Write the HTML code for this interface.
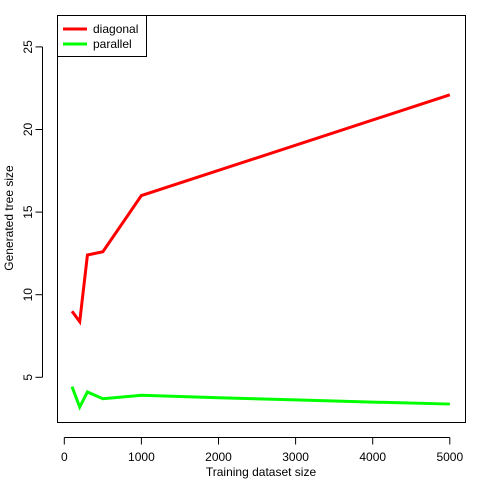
<!DOCTYPE html>
<html><head><meta charset="utf-8"><style>
body{margin:0;background:#fff}
text{font-family:"Liberation Sans",sans-serif;font-size:12px;fill:#000}
</style></head><body>
<svg id="chart" width="480" height="480" xmlns="http://www.w3.org/2000/svg">
<rect width="480" height="480" fill="#fff"/>
<g id="axes"></g>
<g id="series"></g>
<rect x="57.5" y="15.5" width="408" height="407" fill="none" stroke="#000"/>
<g>
<rect x="57.5" y="15.5" width="89" height="41" fill="#fff" stroke="#000"/>
<line x1="63" y1="29" x2="87" y2="29" stroke="#f00" stroke-width="3"/>
<text x="93" y="33">diagonal</text>
<line x1="63" y1="44" x2="87" y2="44" stroke="#0f0" stroke-width="3"/>
<text x="93" y="48">parallel</text>
</g>
<text x="261" y="476" text-anchor="middle">Training dataset size</text>
<text transform="translate(13,218) rotate(-90)" text-anchor="middle">Generated tree size</text>
</svg>
<script>
const diagX=[100,200,300,500,1000,5000];
const diagY=[9.0,8.37,12.4,12.6,16.0,22.1];
const parX=[100,200,300,500,1000,2000,3000,4000,5000];
const parY=[4.43,3.2,4.11,3.7,3.91,3.76,3.63,3.5,3.38];
const xTicks=[0,1000,2000,3000,4000,5000];
const yTicks=[5,10,15,20,25];
const NS="http://www.w3.org/2000/svg";
function sx(v){return 64.3+v*0.0771;}
function sy(v){return 459.9-v*16.52;}
const axes=document.getElementById('axes');
function mk(t,a,p){const e=document.createElementNS(NS,t);for(const k in a)e.setAttribute(k,a[k]);p.appendChild(e);return e;}
const xa=mk('line',{x1:sx(0),x2:sx(5000),y1:437.5,y2:437.5,stroke:'#000'},axes);


xTicks.forEach(t=>{
 const l=mk('line',{x1:sx(t),x2:sx(t),y1:437.5,y2:444.5,stroke:'#000'},axes);
 
 
 const tx=mk('text',{x:sx(t),y:461,'text-anchor':'middle'},axes);tx.textContent=t;
 
 
});
const ya=mk('line',{x1:42.5,x2:42.5,y1:sy(5),y2:sy(25),stroke:'#000'},axes);


yTicks.forEach(t=>{
 const l=mk('line',{x1:35.5,x2:42.5,y1:sy(t),y2:sy(t),stroke:'#000'},axes);
 
 
 const tx=mk('text',{transform:`translate(32,${sy(t)}) rotate(-90)`,'text-anchor':'middle'},axes);tx.textContent=t;
 
 
});
const ser=document.getElementById('series');
function line(xs,ys,c,n){
 const p=mk('polyline',{points:xs.map((x,i)=>sx(x)+','+sy(ys[i])).join(' '),fill:'none',stroke:c,'stroke-width':3},ser);
 
 
}
line(diagX,diagY,'#f00','diagonal-line');
line(parX,parY,'#0f0','parallel-line');
</script>
</body></html>
